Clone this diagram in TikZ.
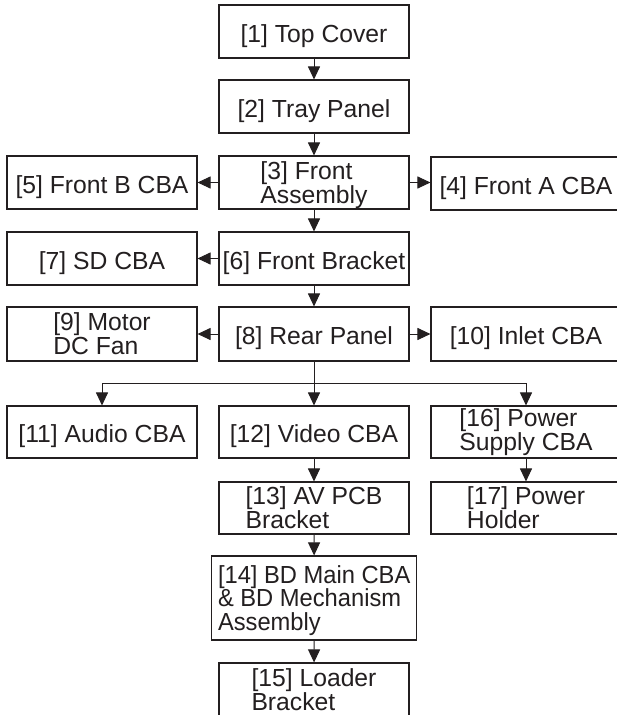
\documentclass[tikz,border=0pt]{standalone}
\usepackage{fontspec}
\setmainfont{Liberation Sans}
\newfontfamily\condfont[FakeStretch=0.96]{Liberation Sans}
\usetikzlibrary{arrows.meta}
\definecolor{ink}{HTML}{231F20}
\begin{document}
\begin{tikzpicture}[x=1pt,y=-1pt,
  box/.style={draw=ink, line width=1.1pt, text=ink, inner sep=0pt,
    minimum width=190pt, minimum height=53pt, align=left,
    font=\fontsize{24.7}{24}\selectfont},
  one/.style={box, text height=21pt, text depth=0pt},
  two/.style={box, text depth=0pt},
  arr/.style={draw=ink, line width=1pt, -{Triangle[length=13pt,width=12pt]}},
  ln/.style={draw=ink, line width=1pt}]
\useasboundingbox (0,0) rectangle (617,715);
\fill[white] (0,0) rectangle (617,715);
% column centres: 102, 314, 526
\node[one] (n1) at (314,31.5) {[1] Top Cover};
\node[one] (n2) at (314,106.5) {[2] Tray Panel};
\node[two] (n3) at (314,182.5) {[3] Front\\Assembly};
\node[one] (n5) at (102,182.5) {[5] Front B CBA};
\node[one] (n4) at (526,183.5) {[4] Front A CBA};
\node[one] (n6) at (314,258.5) {[6] Front Bracket};
\node[one] (n7) at (102,258.5) {[7] SD CBA};
\node[one, minimum height=54pt] (n8) at (314,334) {[8] Rear Panel};
\node[two, minimum height=54pt] (n9) at (102,334) {[9] Motor\\DC Fan};
\node[one, minimum height=54pt] (n10) at (526,334) {[10] Inlet CBA};
\coordinate (br) at (314,383);
\node[one, minimum height=52pt] (n11) at (102,432) {[11] Audio CBA};
\node[one, minimum height=52pt] (n12) at (314,432) {[12] Video CBA};
\node[box, minimum height=52pt] (n16) at (526,432) {[16] Power\\Supply CBA};
\node[two, minimum height=52pt] (n13) at (314,508) {[13] AV PCB\\Bracket};
\node[two, minimum height=52pt] (n17) at (526,508) {[17] Power\\Holder};
\node[two, minimum width=205pt, minimum height=84pt,
  font=\condfont\fontsize{24.7}{23.3}\selectfont] (n14) at (314.2,598)
  {[14] BD Main CBA\\\& BD Mechanism\\Assembly};
\node[two, minimum height=54pt] (n15) at (314,690) {[15] Loader\\Bracket};
% connectors
\draw[arr] (n1) -- (n2);
\draw[arr] (n2) -- (n3);
\draw[arr] (n3) -- (n5);
\draw[arr] (n3.east) -- (n4.west |- n3.east);
\draw[arr] (n3) -- (n6);
\draw[arr] (n6) -- (n7);
\draw[arr] (n6) -- (n8);
\draw[arr] (n8) -- (n9);
\draw[arr] (n8) -- (n10);
\draw[arr] (n8) -- (n12);
\draw[ln] (br) -- (br -| n11.north) ;
\draw[ln] (br) -- (br -| n16.north) ;
\draw[arr] (br -| n11.north) -- (n11.north);
\draw[arr] (br -| n16.north) -- (n16.north);
\draw[arr] (n12) -- (n13);
\draw[arr] (n16) -- (n17);
\draw[arr] (n13) -- (n14);
\draw[arr] (n14) -- (n15);
\end{tikzpicture}
\end{document}
